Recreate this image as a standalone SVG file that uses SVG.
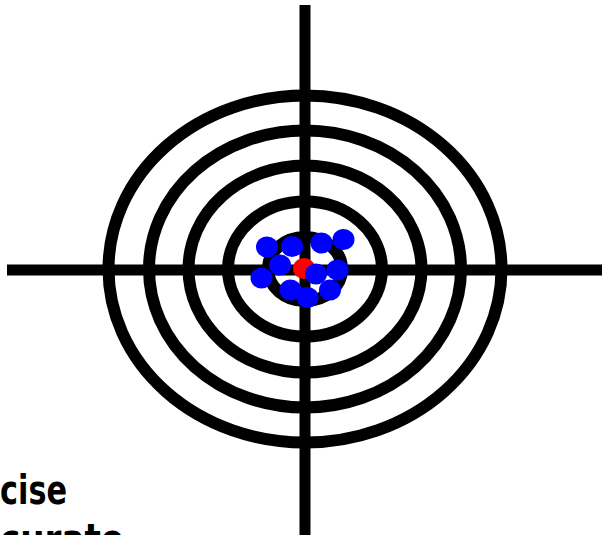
<svg xmlns="http://www.w3.org/2000/svg" width="602" height="535" viewBox="0 0 602 535">
  <style>
    .ring { fill: none; stroke: #000; stroke-width: 12; }
    .axis { stroke: #000; stroke-width: 11; }
    .shot { fill: #0000ff; }
    .bull { fill: #ff0000; }
    .lbl { font-family: "DejaVu Sans", "Liberation Sans", sans-serif; font-weight: bold; font-size: 40px; fill: #000; }
  </style>
  <rect width="602" height="535" fill="#fff"/>
  <g id="target">
    <ellipse class="ring" cx="305" cy="269" rx="196.5" ry="173.5"/>
    <ellipse class="ring" cx="305" cy="269" rx="156" ry="138.5"/>
    <ellipse class="ring" cx="305" cy="269" rx="116.5" ry="103.5"/>
    <ellipse class="ring" cx="305" cy="269" rx="77" ry="67.5"/>
    <ellipse class="ring" cx="305" cy="269" rx="37" ry="32"/>
  </g>
  <g id="crosshair">
    <line class="axis" x1="305" y1="5" x2="305" y2="535"/>
    <line class="axis" x1="7" y1="270" x2="602" y2="270"/>
  </g>
  <g id="shots">
    <ellipse class="shot" cx="267" cy="247" rx="11" ry="10.5"/>
    <ellipse class="shot" cx="292" cy="246.5" rx="11" ry="10.5"/>
    <ellipse class="shot" cx="321.5" cy="243" rx="11" ry="10.5"/>
    <ellipse class="shot" cx="343.5" cy="239.5" rx="11" ry="10.5"/>
    <ellipse class="shot" cx="280" cy="265" rx="11" ry="10.5"/>
    <ellipse class="shot" cx="261.5" cy="278" rx="11" ry="10.5"/>
    <ellipse class="bull" cx="304" cy="268.5" rx="11" ry="10.5"/>
    <ellipse class="shot" cx="337.5" cy="270" rx="11" ry="10.5"/>
    <ellipse class="shot" cx="316" cy="274" rx="11" ry="10.5"/>
    <ellipse class="shot" cx="290.5" cy="290" rx="11" ry="10.5"/>
    <ellipse class="shot" cx="330" cy="290" rx="11" ry="10.5"/>
    <ellipse class="shot" cx="307.5" cy="297.5" rx="11" ry="10.5"/>
  </g>
  <g id="labels">
    <text class="lbl" x="0" y="504" textLength="67" lengthAdjust="spacingAndGlyphs">cise</text>
    <text class="lbl" x="0" y="553" textLength="124" lengthAdjust="spacingAndGlyphs">curate</text>
  </g>
</svg>
